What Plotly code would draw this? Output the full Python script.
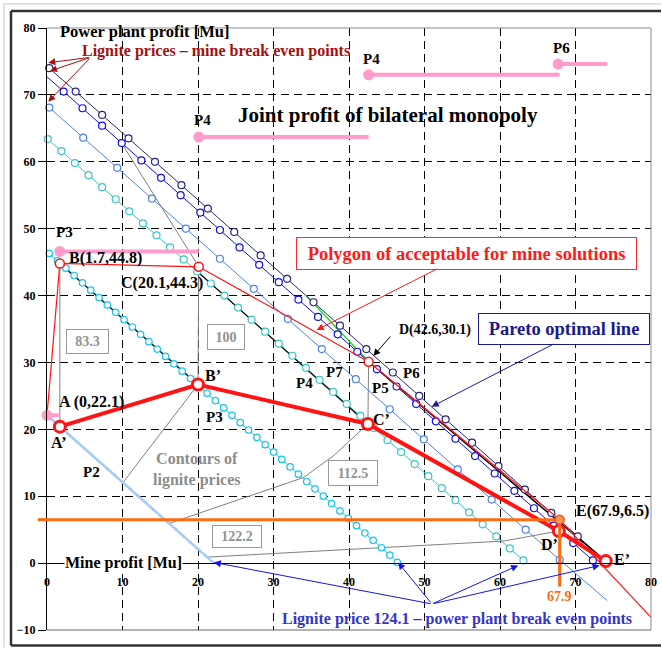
import plotly.graph_objects as go

SERIF = "Liberation Serif"

# ---------------------------------------------------------------------------
# Lignite price iso-lines: x = mine profit [Mu], y = power plant profit [Mu]
# ---------------------------------------------------------------------------
# 102.9 (joint profit / Pareto line)
price_102_9_x = [0.3, 3.8, 7.3, 10.8, 14.3, 17.8, 21.3, 24.8, 28.3, 31.8, 35.3,
                 38.8, 42.3, 45.8, 49.3, 52.8, 56.3, 59.8, 63.3, 66.8, 70.3]
price_102_9_y = [74.0, 70.5, 67.0, 63.5, 60.0, 56.5, 53.0, 49.5, 46.0, 42.5, 39.0,
                 35.5, 32.0, 28.5, 25.0, 21.5, 18.0, 14.5, 11.0, 7.5, 4.0]
price_102_9_end = (74.1, 0.2)

# 96.2
price_96_2_start = (0.0, 72.7)
price_96_2_x = [2.2, 4.7, 7.3, 9.9, 12.5, 15.1, 17.7, 20.3, 22.9, 25.5, 28.1, 30.7,
                33.3, 35.9, 38.5, 41.1, 43.7, 46.3, 48.9, 51.5, 54.1, 56.7, 59.3,
                61.9, 64.5, 67.1, 69.7, 72.3]
price_96_2_y = [70.5, 68.0, 65.4, 62.8, 60.2, 57.6, 55.0, 52.4, 49.8, 47.2, 44.6, 42.0,
                39.4, 36.8, 34.2, 31.6, 29.0, 26.4, 23.8, 21.2, 18.6, 16.0, 13.4,
                10.8, 8.2, 5.6, 3.0, 0.4]

# 108.9
price_108_9_x = [0.3, 4.8, 9.3, 13.9, 18.4, 22.9, 27.4, 31.9, 36.4, 40.9, 45.4,
                 49.9, 54.4, 58.9, 63.4, 67.9]
price_108_9_y = [68.1, 63.6, 59.1, 54.5, 50.0, 45.5, 41.0, 36.5, 32.0, 27.5, 23.0,
                 18.5, 14.0, 9.5, 5.0, 0.5]
price_108_9_end = (74.2, -5.6)

# 88.9
price_88_9_x = [0.1, 1.9, 3.7, 5.5, 7.3, 9.1, 10.9, 12.7, 14.5, 16.3, 18.1, 19.9,
                21.7, 23.5, 25.3, 27.1, 28.9, 30.7, 32.5, 34.3, 36.1, 37.9, 39.7,
                41.5, 43.3, 45.1, 46.9, 48.7, 50.5, 52.3, 54.1, 55.9, 57.7, 59.5,
                61.3, 63.1]
price_88_9_y = [63.4, 61.6, 59.8, 58.0, 56.2, 54.4, 52.6, 50.8, 49.0, 47.2, 45.4, 43.6,
                41.8, 40.0, 38.2, 36.4, 34.6, 32.8, 31.0, 29.2, 27.4, 25.6, 23.8,
                22.0, 20.2, 18.4, 16.6, 14.8, 13.0, 11.2, 9.4, 7.6, 5.8, 4.0,
                2.2, 0.4]

# 81.8 (P3)
price_81_8_x = [0.3, 1.4, 2.5, 3.6, 4.7, 5.8, 6.9, 8.0, 9.1, 10.2, 11.3, 12.4, 13.5,
                14.6, 15.7, 16.8, 17.9, 19.0, 20.1, 21.2, 22.3, 23.4, 24.5, 25.6,
                26.7, 27.8, 28.9, 30.0, 31.1, 32.2, 33.3, 34.4, 35.5, 36.6, 37.7,
                38.8, 39.9, 41.0, 42.1, 43.2, 44.3, 45.4, 46.4]
price_81_8_y = [46.3, 45.2, 44.1, 43.0, 41.9, 40.8, 39.7, 38.6, 37.5, 36.4, 35.3, 34.2,
                33.1, 32.0, 30.9, 29.8, 28.7, 27.6, 26.5, 25.4, 24.3, 23.2, 22.1,
                21.0, 19.9, 18.8, 17.7, 16.6, 15.5, 14.4, 13.3, 12.2, 11.1, 10.0,
                8.9, 7.8, 6.7, 5.6, 4.5, 3.4, 2.3, 1.2, 0.1]

# 80 (P2)
price_80_x = [0.0, 1.0, 2.0, 3.0, 4.0, 5.0, 6.0, 7.0, 8.0, 9.0, 10.0, 11.0, 12.0,
              13.0, 14.0, 15.0, 16.0, 17.0, 18.0, 19.0, 20.0, 21.0, 22.1]
price_80_y = [22.1, 21.1, 20.1, 19.1, 18.1, 17.1, 16.1, 15.1, 14.1, 13.1, 12.1, 11.1,
              10.1, 9.1, 8.1, 7.1, 6.1, 5.1, 4.1, 3.1, 2.1, 1.1, 0.0]

# ---------------------------------------------------------------------------
# Polygon of acceptable mine solutions and the resulting outcomes
# ---------------------------------------------------------------------------
mine_labels = ["A", "B", "C", "D", "E"]
mine_x = [0.0, 1.7, 20.1, 42.6, 67.9]
mine_y = [22.1, 44.8, 44.3, 30.1, 6.5]
mine_tail = (80.0, -8.1)

outcome_labels = ["A’", "B’", "C’", "D’", "E’"]
outcome_x = [1.7, 20.0, 42.5, 67.8, 74.0]
outcome_y = [20.4, 26.7, 20.8, 4.8, 0.3]

# Contours of lignite prices
contour_83_3_x = [1.7, 1.7]
contour_83_3_y = [44.8, 20.4]
contour_100_x = [9.85, 20.1, 20.0, 10.1]
contour_100_y = [62.85, 44.3, 26.7, 12.1]
contour_112_5_x = [16.1, 34.0, 38.0, 42.5, 42.6]
contour_112_5_y = [5.9, 12.8, 16.1, 20.8, 30.1]
contour_112_5_top_x = [42.6, 34.4]
contour_112_5_top_y = [30.1, 39.9]
contour_122_2_x = [21.3, 60.5, 67.8]
contour_122_2_y = [0.9, 3.3, 4.8]

# Black transition segments
seg_b_x, seg_b_y = [1.7, 20.0], [44.8, 26.7]
seg_c_x, seg_c_y = [20.1, 42.5], [43.4, 20.8]
seg_d_x, seg_d_y = [42.6, 74.0], [30.1, 0.3]

# Power plant price levels (pink bars): label, x start, x end, level
pink_labels = ["80", "P3", "P4", "P4", "P6"]
pink_x0 = [0.0, 1.7, 20.1, 42.6, 67.7]
pink_x1 = [1.7, 20.1, 42.6, 67.9, 74.2]
pink_y = [22.1, 46.6, 63.7, 73.0, 74.6]

# Tick values
x_ticks = [0, 10, 20, 30, 40, 50, 60, 70, 80]
y_ticks = [-10, 0, 10, 20, 30, 40, 50, 60, 70, 80]

fig = go.Figure()


def add_line(x, y, color, width):
    fig.add_trace(go.Scatter(x=x, y=y, mode="lines",
                             line=dict(color=color, width=width),
                             hoverinfo="skip"))


def add_markers(x, y, color, size, fill="white", lw=1.2):
    fig.add_trace(go.Scatter(x=x, y=y, mode="markers",
                             marker=dict(size=size, color=fill,
                                         line=dict(color=color, width=lw)),
                             cliponaxis=False, hoverinfo="skip"))


GRAY = "#808080"
NAVY = "#262680"
BLUE = "#1010ee"
CORN = "#4d80f0"
TEAL = "#3cc4c4"
CYAN = "#1cc4f0"
P2C = "#a4ccf6"
RED = "#ff1414"
ORANGE = "#ff6a10"
PINK = "#ff9ccc"

# contours
add_line(contour_83_3_x, contour_83_3_y, GRAY, 1)
add_line(contour_100_x, contour_100_y, GRAY, 1)
add_line(contour_112_5_x, contour_112_5_y, GRAY, 1)
add_line(contour_122_2_x, contour_122_2_y, GRAY, 1)
add_line(contour_112_5_top_x, contour_112_5_top_y, "#22dd22", 1.5)

# price lines
add_line(price_80_x, price_80_y, P2C, 2.5)
add_line(price_81_8_x, price_81_8_y, CYAN, 1)
add_line(price_88_9_x, price_88_9_y, TEAL, 1)
add_line(price_108_9_x + [price_108_9_end[0]], price_108_9_y + [price_108_9_end[1]], CORN, 1)
add_line([price_96_2_start[0]] + price_96_2_x, [price_96_2_start[1]] + price_96_2_y, BLUE, 1)
add_line(price_102_9_x + [price_102_9_end[0]], price_102_9_y + [price_102_9_end[1]], NAVY, 1)

# black segments
add_line(seg_b_x, seg_b_y, "black", 1.2)
add_line(seg_c_x, seg_c_y, "black", 1.2)
add_line(seg_d_x, seg_d_y, "black", 1.5)

# circle markers
add_markers(price_80_x, price_80_y, P2C, 3, fill=P2C, lw=0)
add_markers(price_81_8_x, price_81_8_y, CYAN, 6.5)
add_markers(price_88_9_x, price_88_9_y, TEAL, 7)
add_markers(price_108_9_x, price_108_9_y, CORN, 7)
add_markers(price_96_2_x, price_96_2_y, BLUE, 7)
add_markers(price_102_9_x, price_102_9_y, NAVY, 7)

# thin polygon of acceptable mine solutions
add_line(mine_x + [mine_tail[0]], mine_y + [mine_tail[1]], RED, 1.2)
add_markers(mine_x[1:4], mine_y[1:4], RED, 9, lw=1.5)

# thick outcome path
add_line(outcome_x, outcome_y, RED, 4)
add_markers(outcome_x, outcome_y, RED, 11, lw=3)

# orange guides through E
add_line([0.0, mine_x[4]], [mine_y[4], mine_y[4]], ORANGE, 3)
add_line([mine_x[4], mine_x[4]], [mine_y[4], -3.5], ORANGE, 3)
add_markers([mine_x[4]], [mine_y[4]], "#ff4a1a", 9, fill="#ff9a50", lw=1.5)

# pink price levels
for x0, x1, yv in zip(pink_x0, pink_x1, pink_y):
    add_line([x0, x1], [yv, yv], PINK, 4)
add_markers(pink_x0, pink_y, PINK, 11, fill=PINK, lw=0)

ann = []


def label(text, x, y, size=16, color="black", xanchor="center", **kw):
    d = dict(text=text, x=x, y=y, xref="x", yref="y", showarrow=False,
             xanchor=xanchor, yanchor="middle",
             font=dict(family=SERIF, size=size, color=color, weight="bold"))
    d.update(kw)
    ann.append(d)


def arrow(tail, tip, color, width=1.0, size=1.4):
    ann.append(dict(text="", x=tip[0], y=tip[1], ax=tail[0], ay=tail[1],
                    xref="x", yref="y", axref="x", ayref="y", showarrow=True,
                    arrowhead=2, arrowsize=size, arrowwidth=width,
                    arrowcolor=color, standoff=0))


DARKRED = "#a51010"
label("Power plant profit [Mu]", 1.46, 79.5, size=16.5, xanchor="left")
label("Lignite prices – mine break even points", 4.37, 76.5, size=16, color=DARKRED, xanchor="left")
label("102.9", -0.36, 74.96, size=14, color=DARKRED, xanchor="right")
label("96.2", -0.36, 72.57, size=14, color=DARKRED, xanchor="right")
label("108.9", -0.36, 68.14, size=14, color=DARKRED, xanchor="right")
label("88.9", -0.36, 63.26, size=14, color=DARKRED, xanchor="right")
label("81.8", -0.57, 46.21, size=14, color=DARKRED, xanchor="right")
label("80", -0.57, 22.14, size=15, color=DARKRED, xanchor="right")
label("6.5", -1.36, 6.55, size=14.5, color=ORANGE, xanchor="right")
label("67.9", 67.85, -5.02, size=14, color=ORANGE)

label("Joint profit of bilateral monopoly", 24.99, 66.99, size=21, xanchor="left")
label(pink_labels[1], 2.29, 49.46, size=15)
label(pink_labels[2], 20.57, 66.25, size=15)
label(pink_labels[3], 43.0, 75.32, size=15)
label(pink_labels[4], 68.08, 76.97, size=15)

label("B(1.7,44.8)", 2.69, 45.57, xanchor="left")
label("C(20.1,44.3)", 9.58, 41.83, xanchor="left")
label("D(42.6,30.1)", 46.32, 34.85, size=14, xanchor="left")
label("A (0,22.1)", 1.36, 24.13, xanchor="left")
label("E(67.9,6.5)", 69.84, 7.84, xanchor="left")

label(outcome_labels[0], 1.63, 18.06)
label(outcome_labels[1], 21.95, 28.02)
label(outcome_labels[2], 44.33, 21.4)
label(outcome_labels[3], 66.53, 2.71)
label(outcome_labels[4], 76.12, 0.47)

label("P7", 38.05, 28.62, size=15)
label("P4", 34.08, 26.88, size=15)
label("P5", 44.11, 26.14, size=15)
label("P6", 48.3, 28.38, size=15)
label("P3", 22.16, 21.89, size=15)
label("P2", 5.92, 13.67, size=15)

label("Polygon of acceptable for mine solutions", 55.55, 46.26, size=18.5, color="#ff1a1a",
      bordercolor="#ff2a2a", borderwidth=1, borderpad=1, bgcolor="white", width=337, height=29)
label("Pareto optimal line", 68.46, 34.97, size=18.5, color="#1a1a8c",
      bordercolor="#1a1a8c", borderwidth=1, borderpad=1, bgcolor="white", width=168, height=28)

label("Contours of<br>lignite prices", 19.93, 13.97, size=16, color="#8c8c8c")
for txt, bx, by, w, h in [("83.3", 5.39, 33.16, 39, 21), ("100", 23.68, 33.8, 34, 22),
                          ("112.5", 40.57, 13.5, 46, 22), ("122.2", 25.13, 3.95, 46, 19)]:
    label(txt, bx, by, size=14, color="#929292", bordercolor="#999999", borderwidth=1,
          borderpad=1, bgcolor="white", width=w, height=h)

label("Mine profit [Mu]", 2.29, -0.03, size=16, xanchor="left", bgcolor="white", borderpad=0)
label("Lignite price 124.1 – power plant break even points", 30.86, -8.35, size=16,
      color="#3535c8", xanchor="left")

# arrows
for tip in [(0.17, 74.81), (0.4, 73.57), (0.17, 68.98)]:
    arrow((5.79, 75.62), tip, DARKRED)
arrow((45.65, 34.1), (43.22, 30.96), "black")
arrow((51.83, 44.08), (35.72, 34.85), "#ff1a1a")
arrow((67.28, 32.86), (50.95, 23.39), "#1a1a99")
for tip in [(22.1, 0.1), (46.5, 0.1), (62.4, -0.35), (73.2, -0.35)]:
    arrow((50.99, -6.11), tip, "#1414e6")

TICKFONT = dict(family=SERIF, size=12, color="black", weight="bold")
fig.update_xaxes(range=[0, 80], tickvals=x_ticks, showgrid=True, gridcolor="black",
                 gridwidth=1, griddash="8px,5px", zeroline=False, showline=True,
                 linecolor="black", linewidth=1, anchor="free", position=10 / 90,
                 ticks="", ticklabelstandoff=7, tickfont=TICKFONT, automargin=False)
fig.update_yaxes(range=[-10, 80], tickvals=y_ticks, showgrid=True, gridcolor="black",
                 gridwidth=1, griddash="8px,5px", zeroline=False, showline=True,
                 linecolor="black", linewidth=1, ticks="outside", ticklen=8,
                 tickcolor="black", tickfont=TICKFONT, automargin=False)


def pline(x0, y0, x1, y1, color, width, yref="paper"):
    return dict(type="line", xref="paper", yref=yref, x0=x0, x1=x1, y0=y0, y1=y1,
                line=dict(color=color, width=width), layer="above")


RIGHT = 1.0166   # right edge of the figure in paper units
shapes = [
    # frame of the plotting area
    pline(0, 1, 1, 1, "#8c8c8c", 1),
    pline(1, 0, 1, 1, "#8c8c8c", 1),
    pline(0, 0, 1, 0, "#666666", 1),
    # orange stub into the left margin
    pline(-0.015, mine_y[4], 0, mine_y[4], ORANGE, 3, yref="y"),
    # outer chart border (top, left, bottom)
    pline(-0.0712, 1.040, RIGHT, 1.040, "#c4c4c4", 1),
    pline(-0.0712, -0.029, -0.0712, 1.040, "#c4c4c4", 1),
    pline(-0.0596, 1.0282, RIGHT, 1.0282, "#333333", 2.5),
    pline(-0.0596, -0.0257, -0.0596, 1.0282, "#333333", 2.5),
    pline(-0.0596, -0.0257, RIGHT, -0.0257, "#333333", 2.5),
]

fig.update_layout(
    width=662, height=648,
    margin=dict(l=47, r=11, t=28, b=18, pad=0, autoexpand=False),
    paper_bgcolor="white", plot_bgcolor="white",
    showlegend=False,
    annotations=ann,
    shapes=shapes,
    font=dict(family=SERIF),
)

fig.write_html("out.html")
